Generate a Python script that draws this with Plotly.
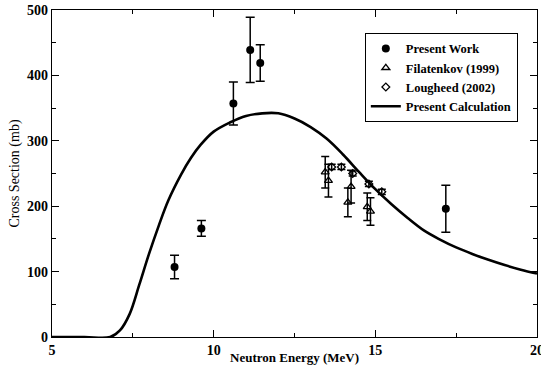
import plotly.graph_objects as go

# Present Work
pw_E = [8.79, 9.62, 10.61, 11.13, 11.44, 17.18]
pw_sig = [107, 166, 357, 439, 419, 196]
pw_err = [18, 12, 33, 50, 28, 36]

# Filatenkov (1999)
fil_E = [13.45, 13.55, 14.15, 14.25, 14.75, 14.85]
fil_sig = [252, 239, 206, 230, 199, 192]
fil_err = [24, 25, 22, 25, 21, 21]

# Lougheed (2002)
lou_E = [13.65, 13.95, 14.30, 14.80, 15.20]
lou_sig = [260, 260, 250, 234, 222]
lou_err = [4, 4, 4, 4, 4]

# Present Calculation
calc_E = [5.0, 6.0, 6.8, 7.1, 7.4, 7.7, 8.0, 8.3, 8.6, 9.0, 9.3, 9.6, 10.0,
          10.5, 11.0, 11.5, 12.0, 12.5, 13.0, 13.5, 14.0, 14.5, 15.0, 15.5, 16.0,
          16.5, 17.0, 17.5, 18.0, 18.5, 19.0, 19.5, 20.0]
calc_sig = [0, 0, 0, 10, 35, 80, 127, 170, 209, 249, 274, 294, 314,
            328, 338, 342, 342, 334, 321, 303, 279, 252, 226, 203, 182,
            163, 149, 137, 127, 118, 110, 103, 97]

FONT = "'Liberation Serif', 'Times New Roman', Times, serif"

fig = go.Figure()
fig.add_trace(go.Scatter(
    x=pw_E, y=pw_sig, mode="markers", name="<b>Present Work</b>",
    marker=dict(symbol="circle", size=8, color="black"),
    error_y=dict(type="data", array=pw_err, color="black", thickness=1.5, width=4.5)))
fig.add_trace(go.Scatter(
    x=fil_E, y=fil_sig, mode="markers", name="<b>Filatenkov (1999)</b>",
    marker=dict(symbol="triangle-up-open", size=7, color="black", line=dict(width=1.3)),
    error_y=dict(type="data", array=fil_err, color="black", thickness=1.5, width=4)))
fig.add_trace(go.Scatter(
    x=lou_E, y=lou_sig, mode="markers", name="<b>Lougheed (2002)</b>",
    marker=dict(symbol="diamond-open", size=6, color="black", line=dict(width=1.3)),
    error_y=dict(type="data", array=lou_err, color="black", thickness=1.5, width=4)))
fig.add_trace(go.Scatter(
    x=calc_E, y=calc_sig, mode="lines", name="<b>Present Calculation</b>",
    line=dict(color="black", width=2.6, shape="spline", smoothing=1.0)))

axis_common = dict(
    showline=True, linecolor="black", linewidth=1.3, mirror="ticks",
    ticks="inside", ticklen=7, tickwidth=1.2, tickcolor="black",
    showgrid=False, zeroline=False, automargin=False,
    ticklabeloverflow="allow",
    tickfont=dict(family=FONT, size=14, color="black"),
)

fig.update_xaxes(range=[5, 20], dtick=5, tick0=5,
                 minor=dict(ticks="inside", ticklen=4, dtick=2.5, tickcolor="black", tickwidth=1.2),
                 tickprefix="<b>", ticksuffix="</b>",
                 **axis_common)
fig.update_yaxes(range=[0, 500], dtick=100,
                 minor=dict(ticks="inside", ticklen=4, dtick=50, tickcolor="black", tickwidth=1.2),
                 title=dict(text="Cross Section (mb)", font=dict(family=FONT, size=14, color="black"),
                            standoff=4),
                 tickprefix="<b>", ticksuffix="</b>",
                 **axis_common)

fig.add_annotation(text="<b>Neutron Energy (MeV)</b>", xref="paper", yref="paper",
                   x=0.5, y=0, yanchor="top", yshift=-11, showarrow=False,
                   font=dict(family=FONT, size=13, color="black"))

fig.update_layout(
    width=541, height=371,
    margin=dict(l=52, r=4, t=10, b=34),
    plot_bgcolor="white", paper_bgcolor="white",
    font=dict(family=FONT, color="black"),
    showlegend=True,
    legend=dict(x=0.645, y=0.93, xanchor="left", yanchor="top",
                bgcolor="white", bordercolor="black", borderwidth=1,
                font=dict(family=FONT, size=12.5, color="black"),
                tracegroupgap=0, itemwidth=30),
)

fig.write_html("out.html",
               config={"displayModeBar": False},
               post_script="document.body.style.margin='0';document.body.style.overflow='hidden';")
